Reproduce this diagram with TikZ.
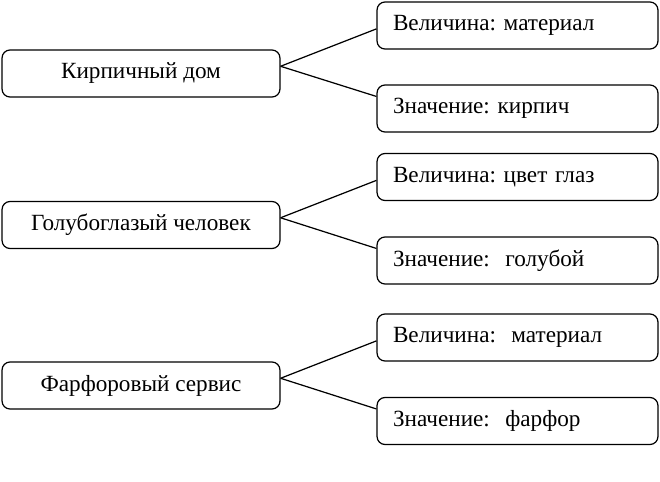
\documentclass[tikz,border=0pt]{standalone}
\usepackage{fontspec}
\setmainfont{Liberation Serif}
\usetikzlibrary{calc}
\frenchspacing

\begin{document}
\begin{tikzpicture}[x=0.02cm, y=-0.02cm,
	obj/.style={draw, rounded corners=0.16cm, line width=0.7pt, minimum width=5.56cm, minimum height=0.94cm, font=\fontsize{13.2}{15}\selectfont},
	prop/.style={draw, rounded corners=0.16cm, line width=0.7pt, minimum height=0.94cm, inner xsep=0.32cm, text width=4.98cm, align=left, font=\fontsize{13.2}{15}\selectfont}]
	\useasboundingbox (0,0) rectangle (660,481);
%objects
	\node[obj] (dom) at (141,73.5) {Кирпичный дом};
	\node[obj] (chel) at (141,225) {Голубоглазый человек};
	\node[obj] (serv) at (141,385.5) {Фарфоровый сервис};
%properties
	\node[prop] (vel1) at (517.5,25.5) {Величина: материал};
	\node[prop] (zn1) at (517.5,108.5) {Значение: кирпич};
	\node[prop] (vel2) at (517.5,177) {Величина: цвет глаз};
	\node[prop] (zn2) at (517.5,260.5) {Значение:\ \ голубой};
	\node[prop] (vel3) at (517.5,337.5) {Величина:\ \ материал};
	\node[prop] (zn3) at (517.5,421) {Значение:\ \ фарфор};
%lines
	\foreach \o/\v/\z in {dom/vel1/zn1, chel/vel2/zn2, serv/vel3/zn3} {
		\coordinate (\o-r) at ($(\o.north east)!0.35!(\o.south east)$);
		\draw[line width=0.7pt] (\o-r) -- ($(\v.north west)!0.57!(\v.south west)$);
		\draw[line width=0.7pt] (\o-r) -- ($(\z.north west)!0.25!(\z.south west)$);
	}
\end{tikzpicture}
\end{document}
